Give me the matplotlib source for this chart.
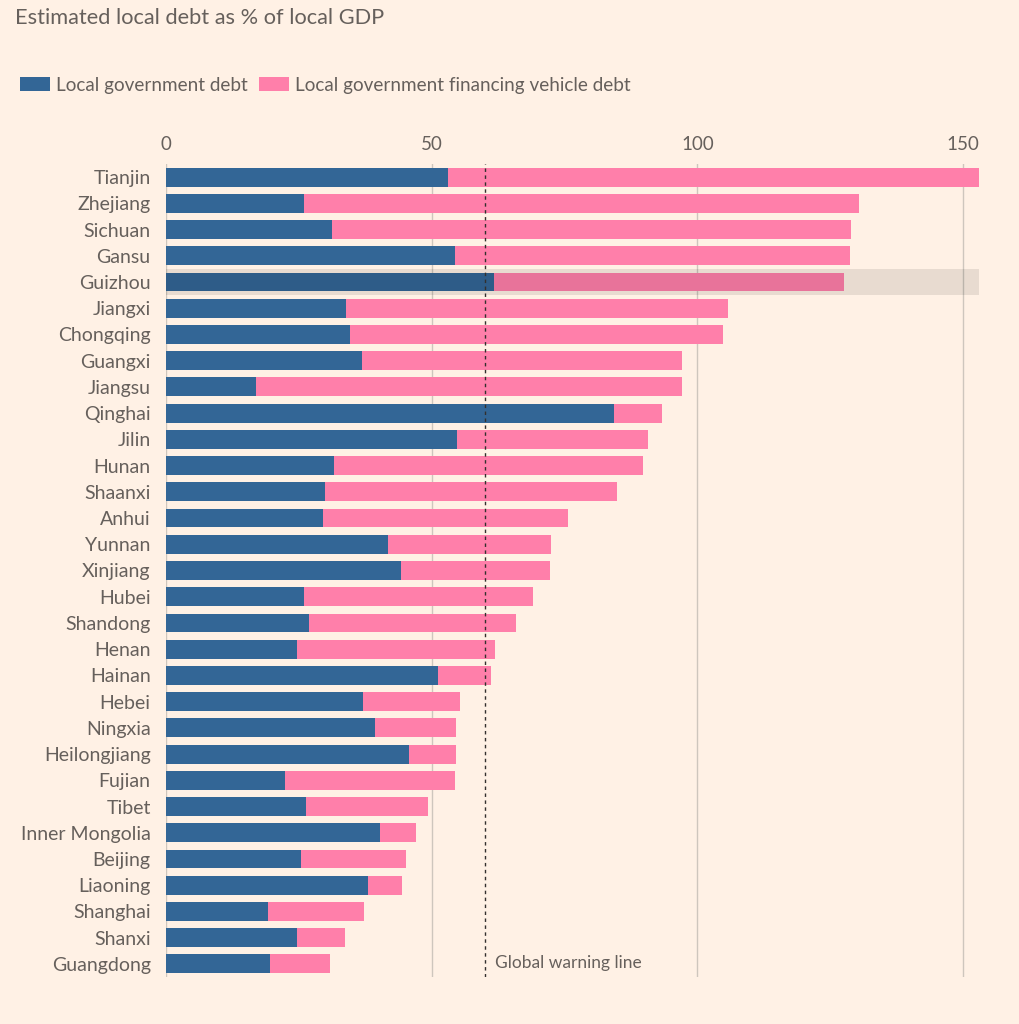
import matplotlib
matplotlib.use("Agg")
import matplotlib.pyplot as plt
from matplotlib.patches import Patch

regions = ["Tianjin", "Zhejiang", "Sichuan", "Gansu", "Guizhou", "Jiangxi", "Chongqing",
           "Guangxi", "Jiangsu", "Qinghai", "Jilin", "Hunan", "Shaanxi", "Anhui", "Yunnan",
           "Xinjiang", "Hubei", "Shandong", "Henan", "Hainan", "Hebei", "Ningxia",
           "Heilongjiang", "Fujian", "Tibet", "Inner Mongolia", "Beijing", "Liaoning",
           "Shanghai", "Shanxi", "Guangdong"]
local_gov_debt = [53.1, 26.0, 31.2, 54.4, 61.7, 33.9, 34.6, 36.9, 16.9, 84.3, 54.8, 31.6,
                  29.9, 29.5, 41.8, 44.2, 26.0, 26.9, 24.7, 51.2, 37.1, 39.3, 45.7, 22.4,
                  26.4, 40.3, 25.4, 38.0, 19.2, 24.7, 19.6]
total_debt = [153.0, 130.4, 128.9, 128.7, 127.6, 105.8, 104.8, 97.1, 97.1, 93.4, 90.7, 89.8,
              84.9, 75.7, 72.5, 72.3, 69.1, 65.9, 61.9, 61.2, 55.3, 54.6, 54.6, 54.4,
              49.3, 47.1, 45.2, 44.4, 37.3, 33.7, 30.9]
lgfv_debt = [round(t - l, 1) for t, l in zip(total_debt, local_gov_debt)]
highlight = "Guizhou"
warning_line = 60
xticks = [0, 50, 100, 150]

BG = "#FFF1E5"
BLUE = "#336696"
PINK = "#FF7FAA"
TXT = "#66605C"
plt.rcParams["font.family"] = ["Lato", "DejaVu Sans"]

fig = plt.figure(figsize=(10.19, 10.24), dpi=100, facecolor=BG)
W, H = 1019, 1024
x0, x1 = 166, 979
y_top, y_bot = 164, 977
ax = fig.add_axes([x0 / W, 1 - y_bot / H, (x1 - x0) / W, (y_bot - y_top) / H])
ax.set_facecolor(BG)

ypos = list(range(len(regions)))
ax.barh(ypos, local_gov_debt, height=0.72, color=BLUE, zorder=2)
ax.barh(ypos, lgfv_debt, left=local_gov_debt, height=0.72, color=PINK, zorder=2)

hi = regions.index(highlight)
ax.axhspan(hi - 0.5, hi + 0.5, xmin=0, xmax=1, color="black", alpha=0.09, lw=0, zorder=3)

ax.set_xlim(0, 153)
ax.set_ylim(len(regions) - 0.5, -0.5)
ax.set_xticks(xticks)
ax.xaxis.tick_top()
ax.set_yticks(ypos)
ax.set_yticklabels(regions)
ax.tick_params(axis="both", length=0, colors=TXT)
ax.tick_params(axis="x", pad=8, labelsize=13.5)
ax.tick_params(axis="y", pad=11, labelsize=14)
for s in ax.spines.values():
    s.set_visible(False)
for t in xticks:
    ax.axvline(t, color="#CEC6BD", lw=1, zorder=1)

ax.axvline(warning_line, color="#33302E", lw=1, linestyle=(0, (2.5, 2.5)), zorder=4)
ax.text(warning_line + 2, len(regions) - 1 - 0.05, "Global warning line", fontsize=12.5,
        color=TXT, va="center", ha="left")

fig.text(15 / W, 1 - 18 / H, "Estimated local debt as % of local GDP", fontsize=15.7,
         color=TXT, va="center", ha="left")

handles = [Patch(facecolor=BLUE, label="Local government debt"),
           Patch(facecolor=PINK, label="Local government financing vehicle debt")]
fig.legend(handles=handles, loc="center left", bbox_to_anchor=(20 / W, 1 - 85 / H),
           ncol=2, frameon=False, fontsize=13.6, labelcolor=TXT, handlelength=1.6,
           handleheight=0.75, handletextpad=0.3, columnspacing=0.6,
           borderpad=0, borderaxespad=0)

fig.savefig("out.png", dpi=100, facecolor=BG)
